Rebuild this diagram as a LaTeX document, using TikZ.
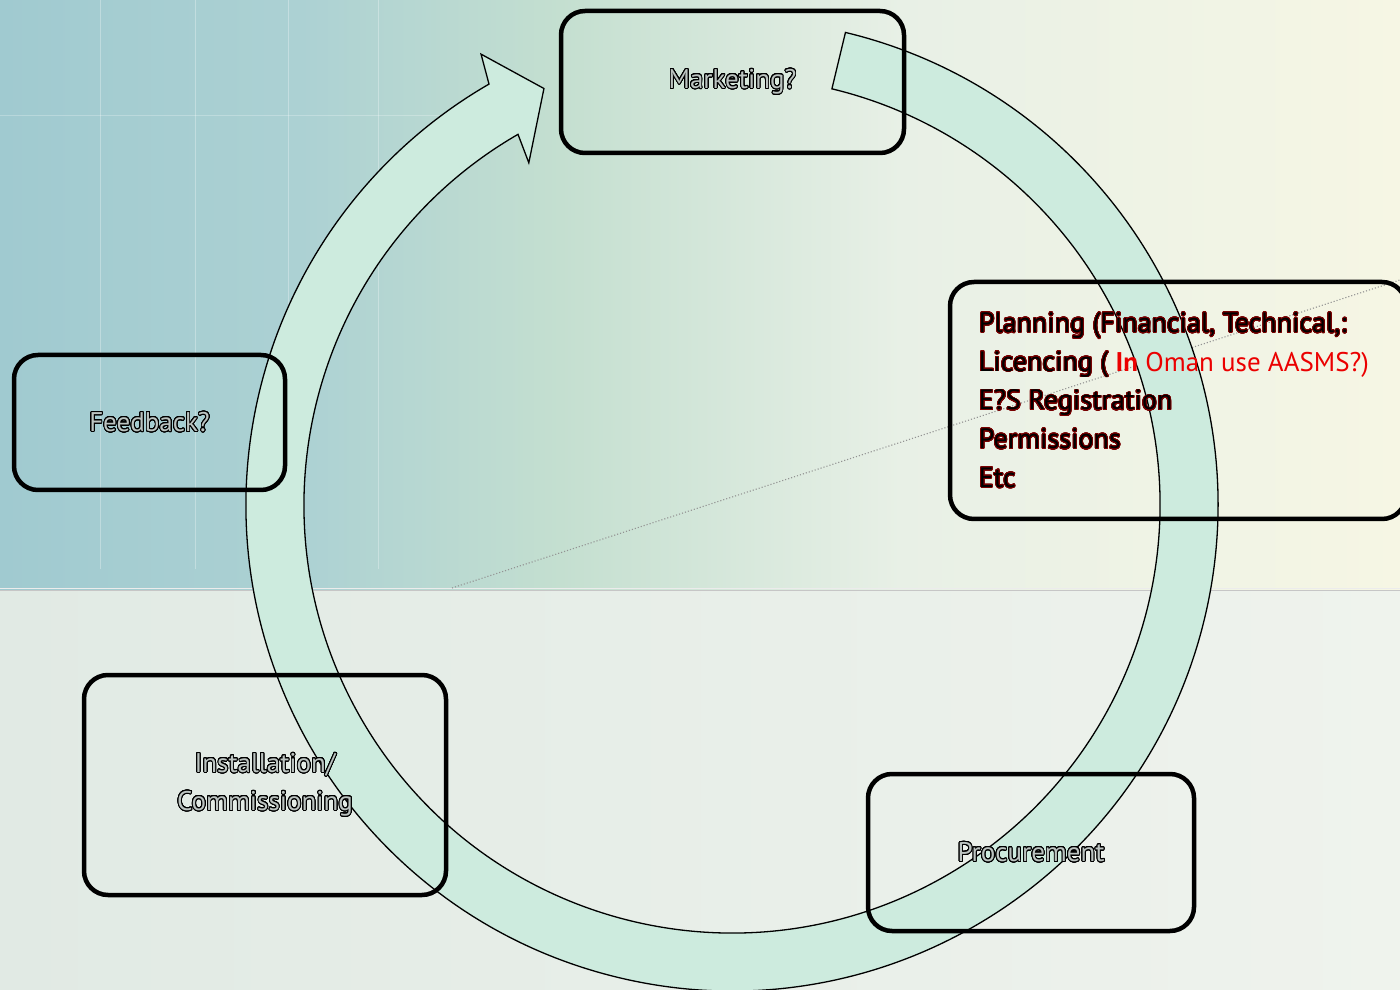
\documentclass[tikz,border=0pt]{standalone}
\usepackage{fontspec}
\setmainfont{PT Sans}
\usepackage{contour}
\contournumber{32}
\definecolor{ringfill}{RGB}{205,235,222}
\definecolor{labfill}{RGB}{188,196,193}
\definecolor{darkred}{RGB}{120,0,0}
\definecolor{brightred}{RGB}{235,0,0}
\definecolor{bgA}{RGB}{160,202,208}
\definecolor{bgB}{RGB}{172,209,211}
\definecolor{bgC}{RGB}{196,223,208}
\definecolor{bgD}{RGB}{232,240,230}
\definecolor{bgE}{RGB}{246,246,228}
\definecolor{bgF}{RGB}{225,234,228}
\definecolor{bgG}{RGB}{239,243,237}
\newcommand{\olab}[1]{{\contourlength{0.9pt}\contour{black}{\textcolor{labfill}{#1}}}}
\newcommand{\rlab}[1]{{\contourlength{0.8pt}\contour{darkred}{\textcolor{black}{#1}}}}
\begin{document}
\begin{tikzpicture}[x=1pt,y=1pt,
  box/.style={draw=black, line width=4.5pt, rounded corners=24pt, inner sep=0pt,
    font=\fontsize{27}{38}\selectfont, align=center},
  plantext/.style={anchor=west, align=left, inner sep=0pt, font=\fontsize{28}{38.7}\selectfont},
  ringline/.style={draw=black, line width=1.3pt, fill=ringfill, line join=miter}]
\useasboundingbox (0,0) rectangle (1400,989);
% background
\begin{scope}
\clip (0,0) rectangle (1400,989);
\fill[left color=bgF, right color=bgG] (0,0) rectangle (1400,400);
\fill[left color=bgA, right color=bgB] (0,399) rectangle (301,989);
\fill[left color=bgB, right color=bgC] (300,399) rectangle (561,989);
\fill[left color=bgC, right color=bgD] (560,399) rectangle (901,989);
\fill[left color=bgD, right color=bgE] (900,399) rectangle (1400,989);
\foreach \gx in {100,195,288,378}
  \draw[white, opacity=0.3, line width=0.8pt] (\gx,420) -- (\gx,989);
\draw[white, opacity=0.25, line width=0.8pt] (0,874) -- (460,874);
\draw[white!85!gray, line width=1.5pt] (0,400.5) -- (1400,400.5);
\draw[gray!45, line width=1pt] (0,398.5) -- (1400,398.5);
\draw[gray!85, dotted, line width=1.1pt] (452,401) -- (1400,709);
\end{scope}
% circular arrow
\coordinate (C) at (732,484);
\path[ringline] ([shift={(C)}]76.5:486) arc[start angle=76.5, end angle=-240, radius=486]
  -- ([shift={(C)}]119.1:516) -- ([shift={(C)}]114.3:457) -- ([shift={(C)}]120.7:398)
  -- ([shift={(C)}]120:428) arc[start angle=-240, end angle=76.5, radius=428] -- cycle;
% boxes
\node[box, minimum width=343pt, minimum height=142pt] (mkt) at (732.5,907) {\olab{Marketing?}};
\node[box, minimum width=271pt, minimum height=135pt] (fb) at (149.5,566.5) {\olab{Feedback?}};
\node[box, minimum width=362pt, minimum height=220pt] (inst) at (265,204) {\olab{Installation/}\\\olab{Commissioning}};
\node[box, minimum width=326pt, minimum height=157pt] (proc) at (1031,136.5) {\olab{Procurement}};
\node[box, minimum width=456pt, minimum height=237pt] (plan) at (1178,588.5) {};
\node[plantext, xshift=31pt] (plantxt) at (plan.west)
  {\rlab{Planning (Financial, Technical,:}\\
   \rlab{Licencing (} {\fontsize{27}{38.7}\selectfont\textcolor{brightred}{\textbf{In} Oman use AASMS?)}}\\
   \rlab{E?S Registration}\\
   \rlab{Permissions}\\
   \rlab{Etc}};
\end{tikzpicture}
\end{document}
